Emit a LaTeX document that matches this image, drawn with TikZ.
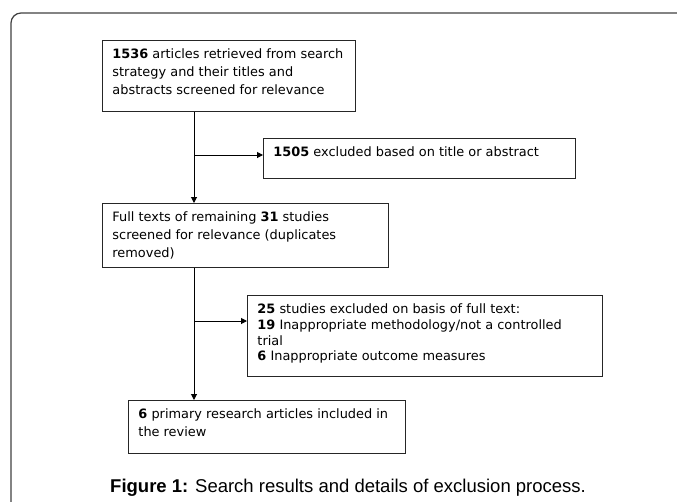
\documentclass[tikz,border=0pt]{standalone}
\usepackage{fontspec}
\setmainfont{DejaVu Sans}
\newfontfamily\captionfont{Liberation Sans}
\usetikzlibrary{arrows.meta}
\newcommand{\boxtext}[3]{\parbox[c][#2][t]{#1}{\raggedright\rule{0pt}{18pt}#3}}
\begin{document}
\begin{tikzpicture}[
    x=1pt,y=-1pt,
    flowbox/.style={
      draw=black!85,
      line width=0.9pt,
      anchor=north west,
      inner xsep=10pt,
      inner ysep=0pt,
      font=\fontsize{12.9pt}{17.8pt}\selectfont
    },
    flowarrow/.style={
      line width=1pt,
      -{Triangle[length=6pt,width=6pt]}
    }
  ]
    \useasboundingbox (0,0) rectangle (677,501);
    \clip (0,0) rectangle (677,501);
    \draw[line width=1.2pt,black!75,rounded corners=10pt] (11,530) -- (11,13) -- (700,13);
    \node[flowbox] (search) at (102,40) {\boxtext{233pt}{71pt}{\textbf{1536} articles retrieved from search\\strategy and their titles and\\abstracts screened for relevance}};
    \node[flowbox] (titleout) at (263,138) {\boxtext{292pt}{40pt}{\textbf{1505} excluded based on title or abstract}};
    \node[flowbox] (fulltext) at (102,203) {\boxtext{266pt}{64pt}{Full texts of remaining \textbf{31} studies\\screened for relevance (duplicates\\removed)}};
    \node[flowbox,font=\fontsize{12.9pt}{15.8pt}\selectfont] (fullout) at (247,295) {\boxtext{335pt}{81pt}{\textbf{25} studies excluded on basis of full text:\\\textbf{19} Inappropriate methodology/not a controlled\\trial\\\textbf{6} Inappropriate outcome measures}};
    \node[flowbox] (included) at (128,400) {\boxtext{257pt}{53pt}{\textbf{6} primary research articles included in\\the review}};
    \node[anchor=base west,inner sep=0pt,font=\captionfont\fontsize{18.5pt}{22pt}\selectfont] (caption) at (110,492) {\textbf{Figure 1:} Search results and details of exclusion process.};
    \coordinate (split1) at (194,155);
    \coordinate (split2) at (194,321);
    \draw[flowarrow] (search.south -| split1) -- (fulltext.north -| split1);
    \draw[flowarrow] (split1) -- (split1 -| titleout.west);
    \draw[flowarrow] (fulltext.south -| split2) -- (included.north -| split2);
    \draw[flowarrow] (split2) -- (split2 -| fullout.west);
  \end{tikzpicture}
\end{document}
